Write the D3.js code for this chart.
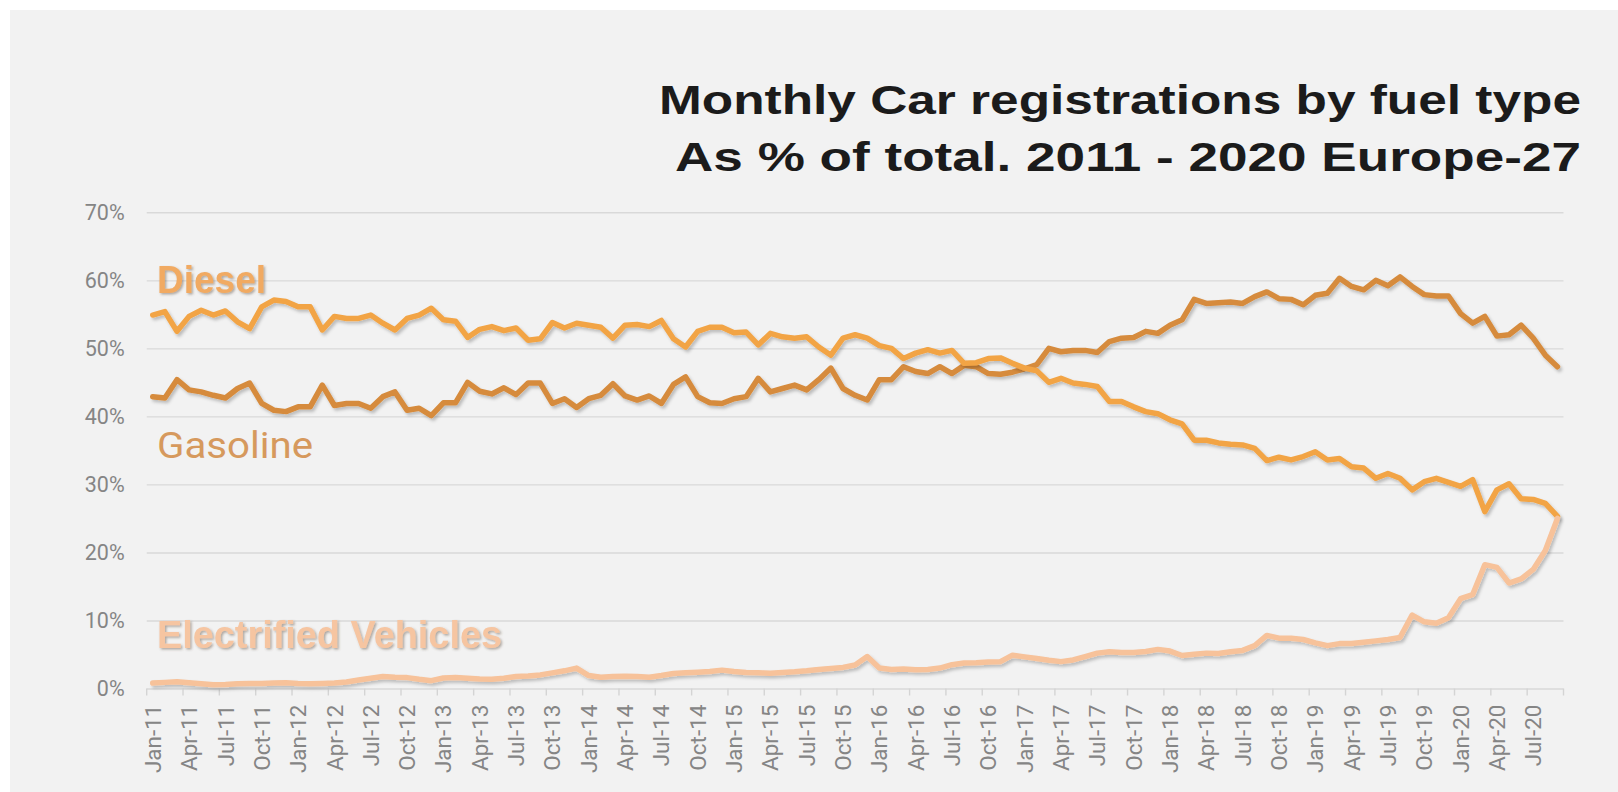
<!DOCTYPE html>
<html>
<head>
<meta charset="utf-8">
<script src="https://cdn.jsdelivr.net/npm/d3@7"></script>
<style>
  body { margin: 0; background: #fff; }
  .yaxis text, .xaxis text { font-family: Roboto, sans-serif; fill: #858585; }
</style>
</head>
<body>
<div id="chart"></div>
<script>
var monthNames = ["Jan", "Feb", "Mar", "Apr", "May", "Jun", "Jul", "Aug", "Sep", "Oct", "Nov", "Dec"];
var years = ["11", "12", "13", "14", "15", "16", "17", "18", "19", "20"];
var yTicks = [0, 10, 20, 30, 40, 50, 60, 70];

// % of monthly registrations, Jan-11 .. Sep-20
var diesel = [54.9, 55.4, 52.5, 54.7, 55.6, 54.9, 55.5, 53.9, 52.9, 56.1,
        57.1, 56.9, 56.1, 56.1, 52.7, 54.7, 54.4, 54.4, 54.9, 53.7,
        52.7, 54.4, 54.9, 55.9, 54.2, 54.0, 51.6, 52.8, 53.2, 52.6,
        53.0, 51.2, 51.4, 53.8, 53.0, 53.7, 53.4, 53.1, 51.5, 53.4,
        53.5, 53.2, 54.1, 51.4, 50.2, 52.5, 53.1, 53.1, 52.3, 52.4,
        50.5, 52.2, 51.7, 51.5, 51.7, 50.2, 49.0, 51.5, 52.0, 51.5,
        50.4, 50.0, 48.5, 49.3, 49.8, 49.3, 49.7, 47.8, 47.9, 48.5,
        48.6, 47.8, 47.1, 46.7, 45.0, 45.6, 44.9, 44.7, 44.4, 42.2,
        42.2, 41.4, 40.7, 40.4, 39.5, 38.9, 36.5, 36.5, 36.1, 35.9,
        35.8, 35.3, 33.5, 34.0, 33.6, 34.1, 34.8, 33.6, 33.8, 32.6,
        32.4, 30.9, 31.6, 30.9, 29.2, 30.4, 30.9, 30.3, 29.7, 30.7,
        26.0, 29.2, 30.1, 27.9, 27.8, 27.2, 25.3];

var gasoline = [42.9, 42.7, 45.4, 43.9, 43.6, 43.1, 42.7, 44.1, 44.9, 41.9,
        40.9, 40.7, 41.4, 41.4, 44.6, 41.6, 41.9, 41.9, 41.2, 42.9,
        43.6, 40.9, 41.2, 40.1, 42.0, 42.0, 45.0, 43.7, 43.3, 44.2,
        43.2, 44.9, 44.9, 41.9, 42.6, 41.3, 42.6, 43.1, 44.8, 43.0,
        42.4, 43.0, 41.9, 44.7, 45.8, 42.9, 42.0, 41.9, 42.6, 42.9,
        45.6, 43.6, 44.1, 44.6, 43.9, 45.4, 47.1, 44.1, 43.1, 42.4,
        45.4, 45.4, 47.3, 46.6, 46.3, 47.3, 46.3, 47.5, 47.3, 46.3,
        46.2, 46.5, 47.0, 47.6, 50.0, 49.5, 49.7, 49.7, 49.4, 51.0,
        51.5, 51.6, 52.5, 52.2, 53.4, 54.2, 57.2, 56.6, 56.7, 56.8,
        56.6, 57.6, 58.3, 57.3, 57.2, 56.4, 57.8, 58.1, 60.3, 59.1,
        58.6, 60.0, 59.2, 60.5, 59.1, 57.9, 57.7, 57.7, 55.1, 53.7,
        54.7, 51.8, 52.0, 53.4, 51.5, 49.0, 47.3];

var electrified = [0.8, 0.9, 1.0, 0.85, 0.7, 0.55, 0.6, 0.7, 0.75, 0.75,
        0.8, 0.85, 0.75, 0.7, 0.75, 0.8, 0.95, 1.25, 1.5, 1.75,
        1.65, 1.6, 1.35, 1.15, 1.55, 1.6, 1.5, 1.4, 1.35, 1.5,
        1.75, 1.85, 2.0, 2.3, 2.6, 3.0, 1.9, 1.65, 1.75, 1.8,
        1.75, 1.65, 1.9, 2.2, 2.3, 2.4, 2.5, 2.7, 2.5, 2.35,
        2.3, 2.25, 2.35, 2.45, 2.6, 2.8, 2.95, 3.1, 3.45, 4.7,
        3.0, 2.8, 2.85, 2.75, 2.8, 3.0, 3.5, 3.75, 3.8, 3.9,
        3.95, 4.9, 4.65, 4.4, 4.15, 3.95, 4.2, 4.7, 5.2, 5.4,
        5.3, 5.3, 5.45, 5.75, 5.5, 4.85, 5.05, 5.2, 5.15, 5.4,
        5.6, 6.3, 7.8, 7.4, 7.4, 7.2, 6.7, 6.3, 6.6, 6.6,
        6.8, 7.0, 7.2, 7.5, 10.8, 9.8, 9.6, 10.4, 13.2, 13.8,
        18.2, 17.8, 15.5, 16.1, 17.5, 20.3, 25.0];

var months = [];
years.forEach(function (yr) {
        monthNames.forEach(function (m) { months.push(m + "-" + yr); });
});
months = months.slice(0, diesel.length);

var width = 1618, height = 792;
var plot = { left: 146.7, right: 1563.5, top: 212.3, bottom: 688.5 };

var x = d3.scaleBand()
        .domain(months)
        .range([plot.left, plot.right]);

var y = d3.scaleLinear()
        .domain([0, 70])
        .range([plot.bottom, plot.top]);

var svg = d3.select("#chart").append("svg")
        .attr("width", width)
        .attr("height", height);

var defs = svg.append("defs");

defs.append("filter")
        .attr("id", "lineShadow")
        .attr("x", "-5%").attr("y", "-20%")
        .attr("width", "110%").attr("height", "140%")
        .append("feDropShadow")
        .attr("dx", 2).attr("dy", 2.5)
        .attr("stdDeviation", 1.4)
        .attr("flood-color", "#000")
        .attr("flood-opacity", 0.22);

defs.append("filter")
        .attr("id", "textShadow")
        .append("feDropShadow")
        .attr("dx", 1.5).attr("dy", 1.5)
        .attr("stdDeviation", 1)
        .attr("flood-color", "#5a4a3a")
        .attr("flood-opacity", 0.45);

svg.append("rect")
        .attr("x", 10)
        .attr("y", 10)
        .attr("width", width - 10)
        .attr("height", height - 10)
        .attr("fill", "#f2f2f2");

// title
var title = ["Monthly Car registrations by fuel type", "As % of total. 2011 - 2020 Europe-27"];
var titleX = [659, 675];
var titleY = [113.5, 170.5];

svg.selectAll(".title")
        .data(title)
        .enter().append("text")
        .attr("class", "title")
        .attr("x", function (d, i) { return titleX[i]; })
        .attr("y", function (d, i) { return titleY[i]; })
        .attr("textLength", function (d, i) { return 1581 - titleX[i]; })
        .attr("lengthAdjust", "spacingAndGlyphs")
        .style("font-family", "'Liberation Sans', Arial, sans-serif")
        .style("font-weight", "bold")
        .style("font-size", "40px")
        .style("fill", "#1b1b1b")
        .text(function (d) { return d; });

// y axis + gridlines
svg.append("g")
        .attr("class", "yaxis")
        .attr("transform", "translate(" + plot.left + ",0)")
        .call(d3.axisLeft(y)
                .tickValues(yTicks)
                .tickSize(-(plot.right - plot.left))
                .tickPadding(22)
                .tickFormat(function (d) { return d + "%"; }))
        .call(function (g) { g.select(".domain").remove(); })
        .call(function (g) {
                g.selectAll("line")
                        .attr("stroke", "#d9d9d9")
                        .attr("stroke-width", 1.4);
        })
        .call(function (g) { g.selectAll("text").style("font-size", "21.5px"); });

// x axis labels, every 3rd month
svg.append("g")
        .attr("class", "xaxis")
        .attr("transform", "translate(0," + plot.bottom + ")")
        .call(d3.axisBottom(x)
                .tickValues(months.filter(function (d, i) { return i % 3 === 0; }))
                .tickSize(0)
                .tickPadding(0))
        .call(function (g) { g.select(".domain").remove(); })
        .call(function (g) {
                g.selectAll("text")
                        .attr("transform", "rotate(-90)")
                        .attr("x", -16)
                        .attr("y", 0)
                        .attr("dy", "0.36em")
                        .style("text-anchor", "end")
                        .style("font-size", "22.5px");
        });

// tick marks sit on the category boundaries
var boundaries = months.filter(function (d, i) { return i % 3 === 0; })
        .map(function (d) { return x(d); })
        .concat([plot.right]);

svg.append("g")
        .selectAll("line")
        .data(boundaries)
        .enter().append("line")
        .attr("x1", function (d) { return d; })
        .attr("x2", function (d) { return d; })
        .attr("y1", plot.bottom)
        .attr("y2", plot.bottom + 7)
        .attr("stroke", "#d4d4d4")
        .attr("stroke-width", 1.4);

var line = d3.line()
        .x(function (d, i) { return x(months[i]) + x.bandwidth() / 2; })
        .y(function (d) { return y(d); });

var series = [
        { name: "Gasoline", values: gasoline, color: "#d68b3c" },
        { name: "Diesel", values: diesel, color: "#f2a445" },
        { name: "Electrified", values: electrified, color: "#f7c29a" }
];

svg.selectAll(".series")
        .data(series)
        .enter().append("path")
        .attr("class", "series")
        .attr("d", function (d) { return line(d.values); })
        .attr("fill", "none")
        .attr("stroke", function (d) { return d.color; })
        .attr("stroke-width", 5.5)
        .attr("stroke-linejoin", "round")
        .attr("stroke-linecap", "round")
        .attr("filter", "url(#lineShadow)");

// in-chart series labels
svg.append("text")
        .attr("x", 157)
        .attr("y", 293)
        .attr("textLength", 109)
        .attr("lengthAdjust", "spacingAndGlyphs")
        .attr("filter", "url(#textShadow)")
        .style("font-family", "'Liberation Sans', Arial, sans-serif")
        .style("font-weight", "bold")
        .style("font-size", "38px")
        .style("fill", "#f1aa62")
        .text("Diesel");

svg.append("text")
        .attr("x", 157)
        .attr("y", 458)
        .attr("textLength", 156)
        .attr("lengthAdjust", "spacingAndGlyphs")
        .style("font-family", "Roboto, sans-serif")
        .style("font-size", "37px")
        .style("fill", "#d6995d")
        .text("Gasoline");

svg.append("text")
        .attr("x", 157)
        .attr("y", 648)
        .attr("textLength", 345)
        .attr("lengthAdjust", "spacingAndGlyphs")
        .attr("filter", "url(#textShadow)")
        .style("font-family", "'Liberation Sans', Arial, sans-serif")
        .style("font-weight", "bold")
        .style("font-size", "38px")
        .style("fill", "#f6c5a1")
        .text("Electrified Vehicles");
</script>
</body>
</html>
